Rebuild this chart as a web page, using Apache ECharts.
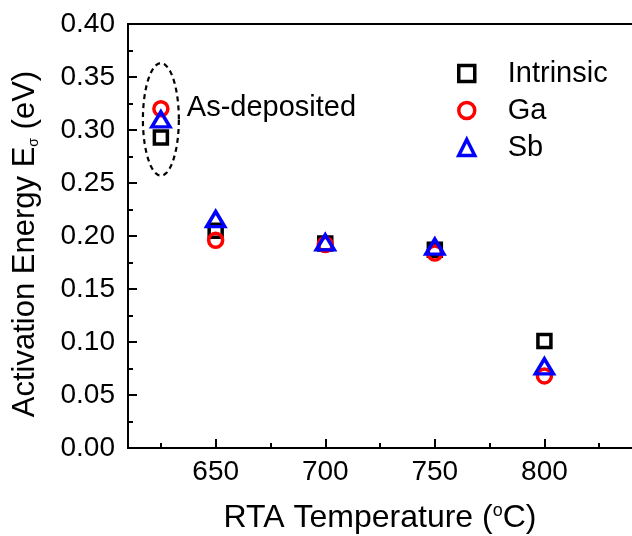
<!DOCTYPE html>
<html>
<head>
<meta charset="utf-8">
<script src="https://cdn.jsdelivr.net/npm/echarts@6/dist/echarts.min.js"></script>
<style>
  html, body { margin: 0; padding: 0; background: #fff; }
  #chart { width: 632px; height: 536px; }
</style>
</head>
<body>
<div id="chart"></div>
<script>
// RTA temperatures (°C); 625 holds the as-deposited films
const temps = [625, 650, 700, 750, 800];
// Activation energy E_sigma (eV)
const intrinsic = [0.293, 0.205, 0.193, 0.187, 0.101];
const ga = [0.320, 0.196, 0.192, 0.184, 0.068];
const sb = [0.310, 0.216, 0.194, 0.190, 0.077];

const xTickValues = [650, 700, 750, 800];
const xMinorValues = [625, 675, 725, 775, 825];
const seriesNames = ['Intrinsic', 'Ga', 'Sb'];
const seriesColors = ['#000000', '#ff0000', '#0000ff'];

// dashed ring around the as-deposited group, in data units
const groupCenter = [625, 0.31];
const groupRadii = [8.2, 0.053];
const groupLabel = 'As-deposited';

const FONT = '"Liberation Sans", Arial, sans-serif';
const chart = echarts.init(document.getElementById('chart'));

const pairs = arr => temps.map((t, i) => [t, arr[i]]);
const hollow = (color, w) => ({ color: 'rgba(0,0,0,0)', borderColor: color, borderWidth: w, opacity: 1 });

const option = {
  animation: false,
  backgroundColor: '#fff',
  textStyle: { fontFamily: FONT },
  grid: {
    left: 128, top: 24, width: 526, bottom: 88,
    outerBoundsMode: 'none',
    containLabel: false,
    show: true, borderColor: '#000', borderWidth: 2, backgroundColor: 'rgba(0,0,0,0)'
  },
  legend: {
    orient: 'vertical',
    left: 452, top: 54,
    padding: 5,
    itemWidth: 16, itemHeight: 16, itemGap: 8,
    data: seriesNames.map((n, i) => ({
      name: n,
      itemStyle: hollow(seriesColors[i], 3.5)
    })),
    textStyle: { fontSize: 29, color: '#000', fontFamily: FONT, padding: [0, 0, 0, 28] }
  },
  xAxis: [{
    type: 'value', min: 610, max: 850,
    position: 'bottom',
    name: 'RTA Temperature ({sup|o}C)',
    nameLocation: 'middle', nameGap: 54,
    nameTextStyle: {
      fontSize: 32, color: '#000', fontFamily: FONT, padding: [0, 22, 0, 0],
      rich: { sup: { fontSize: 18, verticalAlign: 'top', padding: [0, 0, 15, 0], fontFamily: FONT, color: '#000' } }
    },
    axisLine: { show: true, lineStyle: { color: '#000', width: 2 } },
    axisTick: { show: true, inside: true, length: 9, lineStyle: { color: '#000', width: 2 }, customValues: xTickValues },
    axisLabel: { show: true, fontSize: 28, color: '#000', margin: 10, fontFamily: FONT, customValues: xTickValues },
    splitLine: { show: false }
  }, {
    type: 'value', min: 610, max: 850,
    position: 'bottom',
    axisLine: { show: false },
    axisTick: { show: true, inside: true, length: 5, lineStyle: { color: '#000', width: 2 }, customValues: xMinorValues },
    axisLabel: { show: false },
    splitLine: { show: false }
  }],
  yAxis: {
    type: 'value', min: 0, max: 0.4, interval: 0.05,
    name: 'Activation Energy E{sub|σ} (eV)',
    nameLocation: 'middle', nameGap: 87, nameRotate: 90,
    nameTextStyle: {
      fontSize: 31, color: '#000', fontFamily: FONT, padding: [0, 16, 0, 0],
      rich: { sub: { fontSize: 14, verticalAlign: 'bottom', padding: [12, 0, 0, 0], fontFamily: FONT, color: '#000' } }
    },
    axisLine: { show: true, lineStyle: { color: '#000', width: 2 } },
    axisTick: { show: true, inside: true, length: 9, lineStyle: { color: '#000', width: 2 } },
    minorTick: { show: true, splitNumber: 2, length: 5, lineStyle: { color: '#000', width: 2 } },
    axisLabel: { fontSize: 28, color: '#000', margin: 13, fontFamily: FONT, formatter: v => v.toFixed(2) },
    splitLine: { show: false }
  },
  series: [
    {
      name: 'Intrinsic', type: 'scatter', data: pairs(intrinsic),
      symbol: 'rect', symbolSize: 13,
      itemStyle: hollow(seriesColors[0], 3.5)
    },
    {
      name: 'Ga', type: 'scatter', data: pairs(ga),
      symbol: 'circle', symbolSize: 14,
      itemStyle: hollow(seriesColors[1], 3.5)
    },
    {
      name: 'Sb', type: 'scatter', data: pairs(sb),
      symbol: 'triangle', symbolSize: [18, 15],
      itemStyle: hollow(seriesColors[2], 3.5)
    },
    {
      name: 'group', type: 'custom', silent: true,
      data: [groupCenter],
      renderItem: function (params, api) {
        const pts = [];
        const n = 72;
        for (let k = 0; k < n; k++) {
          const a = (k / n) * Math.PI * 2;
          pts.push(api.coord([
            groupCenter[0] + groupRadii[0] * Math.cos(a),
            groupCenter[1] + groupRadii[1] * Math.sin(a)
          ]));
        }
        const right = api.coord([groupCenter[0] + groupRadii[0], groupCenter[1]]);
        return {
          type: 'group',
          children: [{
            type: 'polygon',
            shape: { points: pts },
            style: { fill: 'none', stroke: '#000', lineWidth: 2.2, lineDash: [5, 4] }
          }, {
            type: 'text',
            style: {
              text: groupLabel, x: right[0] + 8, y: api.coord([0, 0.32])[1] - 1,
              fill: '#000', fontSize: 29, fontFamily: FONT, verticalAlign: 'middle', align: 'left'
            }
          }]
        };
      }
    }
  ]
};

chart.setOption(option);
</script>
</body>
</html>
